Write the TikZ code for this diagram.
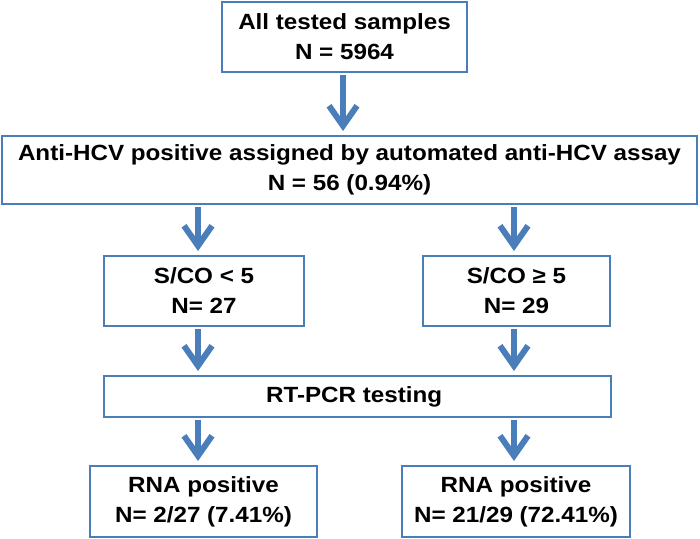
\documentclass[tikz,border=0pt]{standalone}
\usepackage{fontspec}
\setmainfont{Liberation Sans}[FakeStretch=1.1]
\definecolor{hcvBlue}{RGB}{74,126,187}
\usepackage{tikz}
\usetikzlibrary{arrows.meta, positioning}

\begin{document}
\begin{tikzpicture}[x=1pt, y=-1pt,
    box/.style={draw=hcvBlue, line width=2pt, fill=white, minimum height=70pt,
                align=center, inner sep=0pt,
                font=\bfseries\fontsize{22}{30}\selectfont},
    arr/.style={draw=hcvBlue, line width=6pt,
                -{Straight Barb[length=20pt, width=28pt]},
                shorten <=2pt, shorten >=4pt}
  ]
    \useasboundingbox (0,0) rectangle (700,538);

    \coordinate (colM) at (343,0);
    \coordinate (colL) at (198,0);
    \coordinate (colR) at (514,0);

    \node[box, minimum width=245pt] (b1) at (344.5,37) {
      All tested samples\\
      N = 5964
    };
    \node[box, minimum width=695pt, minimum height=68pt] (b2) at (349.5,170) {
      Anti-HCV positive assigned by automated anti-HCV assay\\
      N = 56 (0.94\%)
    };
    \node[box, minimum width=200pt] (b3l) at (204,291) {
      S/CO < 5\\
      N= 27
    };
    \node[box, minimum width=187pt] (b3r) at (516.5,291) {
      S/CO ≥ 5\\
      N= 29
    };
    \node[box, minimum width=507pt, minimum height=41pt] (b4) at (357.5,396.5) {
      RT-PCR testing
    };
    \node[box, minimum width=227pt, minimum height=71pt] (b5l) at (203.5,501.5) {
      RNA positive\\
      N= 2/27 (7.41\%)
    };
    \node[box, minimum width=228pt, minimum height=71pt] (b5r) at (516,501.5) {
      RNA positive\\
      N= 21/29 (72.41\%)
    };

    \draw[arr] (b1.south -| colM) -- (b2.north -| colM);
    \draw[arr] (b2.south -| colL) -- (b3l.north -| colL);
    \draw[arr] (b2.south -| colR) -- (b3r.north -| colR);
    \draw[arr] (b3l.south -| colL) -- (b4.north -| colL);
    \draw[arr] (b3r.south -| colR) -- (b4.north -| colR);
    \draw[arr] (b4.south -| colL) -- (b5l.north -| colL);
    \draw[arr] (b4.south -| colR) -- (b5r.north -| colR);
  \end{tikzpicture}
\end{document}
